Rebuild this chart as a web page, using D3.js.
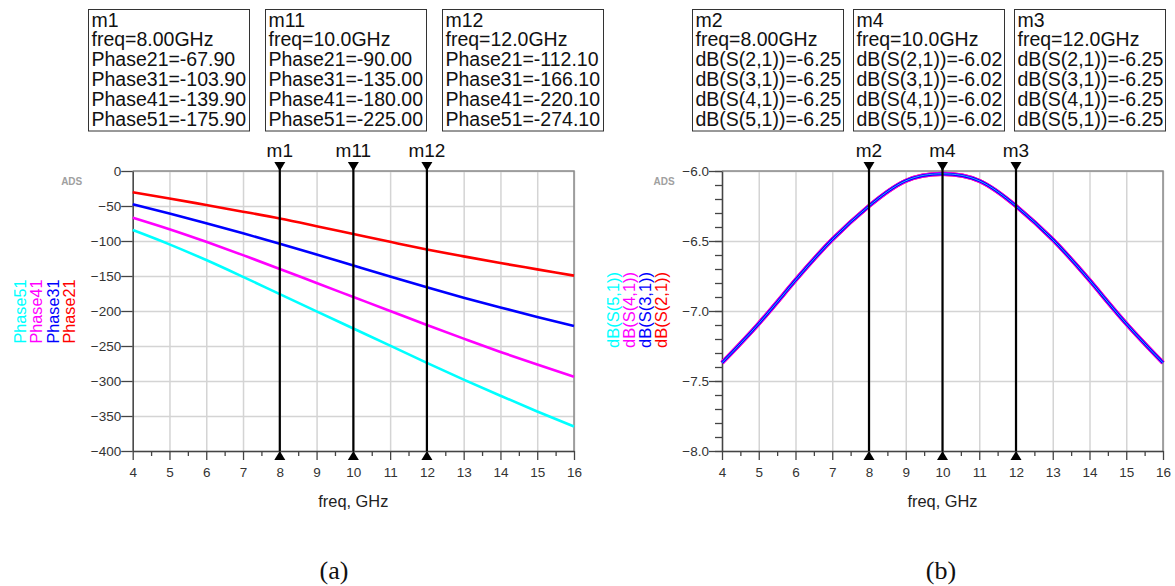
<!DOCTYPE html>
<html><head><meta charset="utf-8">
<script src="https://cdn.jsdelivr.net/npm/d3@7"></script>
<style>
body{margin:0;background:#fff;}
svg{display:block;font-family:"Liberation Sans",Arial,sans-serif;}
</style></head>
<body><svg id="c" width="1175" height="586"></svg>
<script>
// ---------- data ----------
const freq = [4,5,6,7,8,9,10,11,12,13,14,15,16];
const phase21 = [-30.4,-39.2,-48.6,-58.1,-67.9,-78.8,-90.0,-101.2,-112.1,-122.0,-131.5,-140.5,-149.5];
const phase31 = [-47.6,-60.6,-74.6,-89.0,-103.9,-119.4,-135.0,-150.6,-166.1,-181.0,-195.0,-208.5,-221.5];
const phase41 = [-66.7,-83.2,-101.2,-120.2,-139.9,-160.0,-180.0,-200.0,-220.1,-239.5,-258.5,-276.5,-294.0];
const phase51 = [-84.3,-104.8,-127.2,-151.2,-175.9,-200.5,-225.0,-249.5,-274.1,-298.0,-321.0,-343.5,-365.0];
const dbS21 = [-7.37,-7.09,-6.78,-6.49,-6.25,-6.07,-6.02,-6.07,-6.25,-6.49,-6.78,-7.09,-7.37];
const dbS31 = [-7.37,-7.09,-6.78,-6.49,-6.25,-6.07,-6.02,-6.07,-6.25,-6.49,-6.78,-7.09,-7.37];
const dbS41 = [-7.37,-7.09,-6.78,-6.49,-6.25,-6.07,-6.02,-6.07,-6.25,-6.49,-6.78,-7.09,-7.37];
const dbS51 = [-7.37,-7.09,-6.78,-6.49,-6.25,-6.07,-6.02,-6.07,-6.25,-6.49,-6.78,-7.09,-7.37];

const markerFreq = [8,10,12];
const markerFreqText = ["8.00GHz","10.0GHz","12.0GHz"];
const leftMarkerNames = ["m1","m11","m12"];
const rightMarkerNames = ["m2","m4","m3"];
const mkPhase21 = ["-67.90","-90.00","-112.10"];
const mkPhase31 = ["-103.90","-135.00","-166.10"];
const mkPhase41 = ["-139.90","-180.00","-220.10"];
const mkPhase51 = ["-175.90","-225.00","-274.10"];
const mkS21 = ["-6.25","-6.02","-6.25"];
const mkS31 = ["-6.25","-6.02","-6.25"];
const mkS41 = ["-6.25","-6.02","-6.25"];
const mkS51 = ["-6.25","-6.02","-6.25"];

const leftYTicks = [0,-50,-100,-150,-200,-250,-300,-350,-400];
const rightYTicks = [-6.0,-6.5,-7.0,-7.5,-8.0];
const rightYMinor = d3.range(-8.0,-5.99,0.1).map(v=>+v.toFixed(1));
const xTicks = [4,5,6,7,8,9,10,11,12,13,14,15,16];
const xMinor = d3.range(4.5,16,1);

const leftNames = ["Phase21","Phase31","Phase41","Phase51"];
const rightNames = ["dB(S(2,1))","dB(S(3,1))","dB(S(4,1))","dB(S(5,1))"];
const colors = ["#ff0000","#0000ff","#ff00ff","#00ffff"];

// ---------- drawing ----------
const svg = d3.select("#c");
const yTop = 171, yBot = 451;

function panel(x0, x1, yDomain, yTickVals, yMinorVals, fmt, majorLen, adsOff) {
  const x = d3.scaleLinear().domain([4,16]).range([x0,x1]);
  const y = d3.scaleLinear().domain(yDomain).range([yBot,yTop]);
  const g = svg.append("g");
  g.append("g").attr("transform",`translate(0,${yBot})`)
    .call(d3.axisBottom(x).tickValues(xTicks).tickSize(-(yBot-yTop)).tickFormat(""))
    .call(a=>{a.select(".domain").remove();a.selectAll("line").attr("stroke","#d4d4d4").attr("stroke-width",1.5);});
  g.append("g").attr("transform",`translate(${x0},0)`)
    .call(d3.axisLeft(y).tickValues(yTickVals).tickSize(-(x1-x0)).tickFormat(""))
    .call(a=>{a.select(".domain").remove();a.selectAll("line").attr("stroke","#d4d4d4").attr("stroke-width",1.5);});
  g.append("path").attr("d",`M${x0},${yTop}H${x1}V${yBot}`).attr("fill","none").attr("stroke","#8a8a8a").attr("stroke-width",1.5);
  g.append("g").attr("transform",`translate(0,${yBot})`)
    .call(d3.axisBottom(x).tickValues(xMinor).tickSize(5).tickFormat(""))
    .call(a=>{a.select(".domain").remove();a.selectAll("line").attr("stroke","#444").attr("stroke-width",1.3);});
  g.append("g").attr("transform",`translate(0,${yBot})`)
    .call(d3.axisBottom(x).tickValues(xTicks).tickSize(9).tickPadding(7).tickSizeOuter(0))
    .call(a=>{a.select(".domain").attr("stroke","#444").attr("stroke-width",1.5);
      a.selectAll("line").attr("stroke","#444").attr("stroke-width",1.3);
      a.selectAll("text").attr("font-size",13.5).attr("fill","#333").attr("font-family","Liberation Sans, Arial");});
  if (yMinorVals) {
    g.append("g").attr("transform",`translate(${x0},0)`)
      .call(d3.axisLeft(y).tickValues(yMinorVals).tickSize(7).tickFormat(""))
      .call(a=>{a.select(".domain").remove();a.selectAll("line").attr("stroke","#444").attr("stroke-width",1.3);});
  }
  g.append("g").attr("transform",`translate(${x0},0)`)
    .call(d3.axisLeft(y).tickValues(yTickVals).tickSize(majorLen).tickPadding(0).tickSizeOuter(0).tickFormat(fmt))
    .call(a=>{a.select(".domain").attr("stroke","#444").attr("stroke-width",1.5);
      a.selectAll("line").attr("stroke","#444").attr("stroke-width",1.3);
      a.selectAll("text").attr("font-size",13.5).attr("fill","#333").attr("font-family","Liberation Sans, Arial");});
  g.append("text").attr("x",x0-adsOff).attr("y",yTop+14).attr("font-size",10).attr("font-weight","bold")
    .attr("fill","#a0a0a0").attr("text-anchor","middle").text("ADS");
  g.append("text").attr("x",(x0+x1)/2).attr("y",506.5).attr("text-anchor","middle")
    .attr("font-size",16.4).attr("fill","#222").text("freq, GHz");
  return {x,y,g};
}

function markers(p, names) {
  markerFreq.forEach((f,i)=>{
    const xx = p.x(f);
    p.g.append("line").attr("x1",xx).attr("x2",xx).attr("y1",yTop-8).attr("y2",yBot)
      .attr("stroke","#000").attr("stroke-width",2.2);
    p.g.append("path").attr("d",`M${xx-5.5},${yTop-9}H${xx+5.5}L${xx},${yTop}Z`).attr("fill","#000");
    p.g.append("path").attr("d",`M${xx-5.5},${yBot+9}H${xx+5.5}L${xx},${yBot}Z`).attr("fill","#000");
    p.g.append("text").attr("x",xx).attr("y",157).attr("text-anchor","middle")
      .attr("font-size",19).attr("fill","#111").text(names[i]);
  });
}

const L = panel(132.7, 574, [-400,0], leftYTicks, null, d3.format("d"), 11.5, 61);
const seriesL = [phase21,phase31,phase41,phase51];
seriesL.forEach((s,i)=>{
  L.g.append("path").datum(freq.map((f,j)=>[f,s[j]]))
    .attr("fill","none").attr("stroke",colors[i]).attr("stroke-width",2.6)
    .attr("d",d3.line().x(d=>L.x(d[0])).y(d=>L.y(d[1])).curve(d3.curveMonotoneX));
});
markers(L, leftMarkerNames);

const R = panel(722, 1163, [-8,-6], rightYTicks, rightYMinor, d3.format(".1f"), 13, 58);
const seriesR = [dbS21,dbS41,dbS31,dbS51];
const widthsR = [4.2,4.2,2.8,1.0];
const colsR = ["#ff0000","#ff00ff","#0000ff","#40c8ff"];
seriesR.forEach((s,i)=>{
  R.g.append("path").datum(freq.map((f,j)=>[f,s[j]]))
    .attr("fill","none").attr("stroke",colsR[i]).attr("stroke-width",widthsR[i]).attr("stroke-opacity",i==3?0.8:1)
    .attr("d",d3.line().x(d=>R.x(d[0])).y(d=>R.y(d[1])).curve(d3.curveNatural));
});
markers(R, rightMarkerNames);

function legend(names, baseX, startY, fs) {
  names.forEach((n,i)=>{
    svg.append("text").attr("transform",`translate(${baseX[i]},${startY}) rotate(-90)`)
      .attr("font-size",fs).attr("fill",colors[i]).text(n);
  });
}
legend(leftNames, [75,58.5,42,26], 343.5, 16.2);
legend(rightNames, [667,651,635,619], 348, 16.5);

function boxes(xs, w, names, rows) {
  xs.forEach((bx,i)=>{
    svg.append("rect").attr("x",bx+0.5).attr("y",9.5).attr("width",w).attr("height",121.5)
      .attr("fill","#fff").attr("stroke","#333").attr("stroke-width",1);
    const lines = [names[i], "freq="+markerFreqText[i]].concat(rows.map(r=>r[0]+"="+r[1][i]));
    lines.forEach((t,k)=>{
      svg.append("text").attr("x",bx+3.5).attr("y",26.5+k*19.8).attr("font-size",19.5)
        .attr("fill","#111").text(t);
    });
  });
}
boxes([88,265,442], 161, leftMarkerNames,
  [["Phase21",mkPhase21],["Phase31",mkPhase31],["Phase41",mkPhase41],["Phase51",mkPhase51]]);
boxes([692,853,1014], 151, rightMarkerNames,
  [["dB(S(2,1))",mkS21],["dB(S(3,1))",mkS31],["dB(S(4,1))",mkS41],["dB(S(5,1))",mkS51]]);

svg.append("text").attr("x",334).attr("y",579).attr("text-anchor","middle")
  .attr("font-family","Liberation Serif, Times New Roman, serif").attr("font-size",26).attr("fill","#111").text("(a)");
svg.append("text").attr("x",941).attr("y",579).attr("text-anchor","middle")
  .attr("font-family","Liberation Serif, Times New Roman, serif").attr("font-size",26).attr("fill","#111").text("(b)");
</script></body></html>
